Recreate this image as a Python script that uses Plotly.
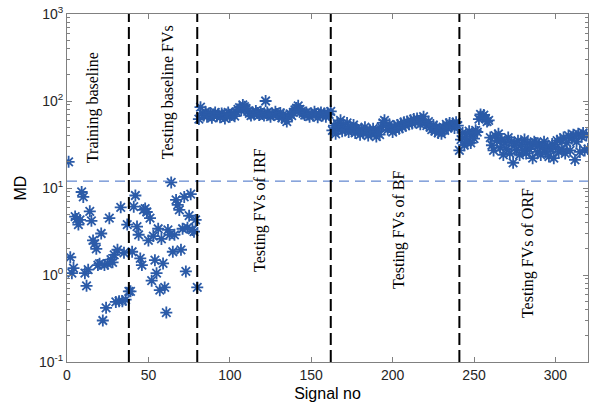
import numpy as np
import plotly.graph_objects as go

# ---- data ----
training_md = [20, 1.6, 1.05, 1.2, 4.7, 4.4, 3.8, 4.3, 9.0, 7.9,
               1.05, 0.75, 1.15, 5.4, 4.2, 2.5, 2.3, 2.0, 1.3, 1.35,
               3.0, 0.3, 1.3, 0.42, 1.35, 4.5, 1.5, 1.4, 1.7, 0.49,
               1.95, 0.5, 6.0, 0.5, 1.8, 0.52, 3.8, 0.65]
test_baseline_md = [0.65, 1.85, 6.1, 8.2, 3.6, 2.9, 1.55, 1.3, 5.6, 5.8,
                    5.3, 2.5, 4.5, 0.86, 2.8, 1.48, 1.05, 3.4, 0.67, 2.6,
                    1.36, 0.72, 0.37, 3.3, 2.9, 11.6, 1.85, 2.9, 7.3, 6.4,
                    5.6, 1.95, 3.4, 7.9, 1.1, 3.5, 4.8, 8.5, 3.3, 3.15,
                    4.3, 0.72]
irf_md = [62, 85, 72, 68, 75, 66, 70, 73, 64, 69,
          74, 67, 71, 65, 72, 68, 63, 70, 74, 66,
          69, 72, 67, 75, 80, 84, 78, 90, 86, 82,
          76, 72, 68, 74, 70, 77, 73, 69, 75, 71,
          68, 100, 74, 70, 66, 72, 69, 75, 71, 67,
          73, 64, 70, 62, 58, 66, 71, 68, 74, 79,
          83, 88, 80, 76, 72, 69, 74, 70, 66, 72,
          68, 75, 71, 65, 70, 74, 68, 72, 66, 73,
          70, 76]
bf_md = [46, 52, 42, 55, 49, 60, 45, 51,
         47, 56, 44, 50, 46, 53, 43, 48, 45, 41,
         47, 43, 50, 44, 40, 46, 42, 48, 44, 39,
         45, 41, 50, 56, 60, 52, 47, 54, 49, 44,
         51, 47, 53, 48, 55, 50, 57, 52, 58, 54,
         60, 55, 62, 57, 63, 58, 54, 61, 66, 56,
         52, 58, 50, 47, 53, 45, 49, 43, 47, 42,
         50, 46, 54, 49, 56, 51, 55, 49, 57, 52,
         27]
orf_md = [36, 43, 31, 39, 34, 45, 33, 41, 37, 46,
          44, 62, 70, 66, 69, 63, 58, 60, 38,
          31, 27, 40, 35, 42, 29, 36, 24, 33, 28,
          38, 25, 34, 19.5, 31, 27, 35, 24, 32, 27,
          36, 25, 33, 28, 30, 22, 34, 33, 26, 31,
          24, 29, 34, 26, 30, 23, 28, 32, 22, 29,
          35, 26, 36, 28, 38, 25, 33, 40, 27, 37,
          41, 21, 34, 42, 26, 39, 43, 27, 40, 28]

boundaries = [38, 80, 162, 241]
threshold = 12
region_labels = ["Training baseline", "Testing baseline FVs", "Testing FVs of IRF",
                 "Testing FVs of BF", "Testing FVs of ORF"]
label_x = [16, 62, 118.6, 204, 283.3]
label_y = [83, 126, 5.6, 3.3, 1.8]

y_tick_vals = [0.1, 1, 10, 100, 1000]
y_tick_text = ["10<sup>-1</sup>", "10<sup>0</sup>", "10<sup>1</sup>",
               "10<sup>2</sup>", "10<sup>3</sup>"]
x_tick_vals = [0, 50, 100, 150, 200, 250, 300]
y_minor_vals = [m * d for d in (0.1, 1, 10, 100) for m in range(2, 10)]

md = training_md + test_baseline_md + irf_md + bf_md + orf_md
signal_no = np.arange(1, len(md) + 1)

blue = "#2B5BA8"
fig = go.Figure()
fig.add_trace(go.Scatter(
    x=signal_no, y=md, mode="markers",
    marker=dict(symbol="asterisk-open", size=10, color=blue,
                line=dict(color=blue, width=1.8)),
    showlegend=False))

fig.add_hline(y=threshold, line=dict(color="#3D6BC4", width=1, dash="10px,6px"))
for b in boundaries:
    fig.add_vline(x=b, line=dict(color="black", width=2, dash="12px,5px"))

for t, lx, ly in zip(region_labels, label_x, label_y):
    fig.add_annotation(x=lx, y=np.log10(ly), text=t, textangle=-90, showarrow=False,
                       font=dict(family="Liberation Serif, Times New Roman, serif",
                                 size=16, color="black"))

axis_common = dict(showline=True, linecolor="#808080", linewidth=1, mirror="ticks",
                   ticks="inside", tickcolor="#808080", ticklen=5,
                   showgrid=False, zeroline=False,
                   tickfont=dict(family="Liberation Sans, Arial, sans-serif", size=14,
                                 color="#262626"))
fig.update_xaxes(range=[0, 320], tickvals=x_tick_vals,
                 title=dict(text="Signal no", standoff=6,
                            font=dict(family="Liberation Sans, Arial, sans-serif",
                                      size=16, color="black")),
                 **axis_common)
fig.update_yaxes(type="log", range=[-1, 3], tickvals=y_tick_vals, ticktext=y_tick_text,
                 minor=dict(tickvals=y_minor_vals, ticks="inside", ticklen=3,
                            tickcolor="#808080", showgrid=False),
                 title=dict(text="MD", standoff=8,
                            font=dict(family="Liberation Sans, Arial, sans-serif",
                                      size=16, color="black")),
                 **axis_common)
fig.update_layout(width=589, height=409, margin=dict(l=67, r=1, t=14, b=47),
                  plot_bgcolor="white", paper_bgcolor="white")
fig.write_html("out.html")
